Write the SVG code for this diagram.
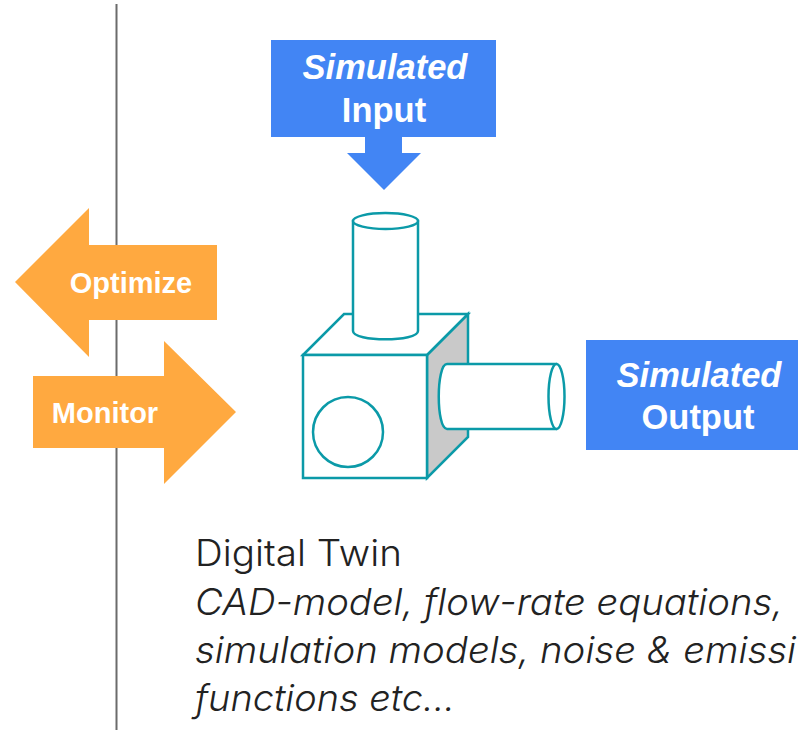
<svg xmlns="http://www.w3.org/2000/svg" width="798" height="730" viewBox="0 0 798 730">
<style>
.o{fill:#ffa940}.b{fill:#4285f4}
.l{fill:#fff;stroke:#0b9aa8;stroke-width:2.500}
.g{fill:#c9c9c9;stroke:#0b9aa8;stroke-width:2.500}
.t{font-family:"Liberation Sans",Arial,sans-serif;font-weight:bold;fill:#fff;text-anchor:middle}
.d{font-family:Inter,"Noto Sans",sans-serif;font-weight:300;font-size:37px;fill:#222}
</style>
<rect width="798" height="730" fill="#fff"/>
<g id="connectors"><path d="M116.500 4V730" stroke="#6b6b6b" stroke-width="2" fill="none"/></g>
<g id="optimize"><path class="o" d="M15 282L89 208V245H217V320H89V357Z"/><text class="t" x="131" y="293" font-size="29">Optimize</text></g>
<g id="monitor"><path class="o" d="M33 376H164V341L236 412L164 484V448H33Z"/><text class="t" x="105" y="423" font-size="29">Monitor</text></g>
<g id="input"><rect class="b" x="271" y="40" width="225" height="97"/><path class="b" d="M365 136H402V153H421L384 190L347 153H365Z"/><text class="t" x="385" y="79" font-size="34.500" font-style="italic">Simulated</text><text class="t" x="384" y="122" font-size="34.500">Input</text></g>
<g id="output"><rect class="b" x="586" y="340" width="212" height="110"/><text class="t" x="699" y="387" font-size="34.500" font-style="italic">Simulated</text><text class="t" x="698" y="429" font-size="34.500">Output</text></g>
<g id="twin-model">
<path class="g" d="M427 355L468 314V437L427 478Z"/>
<path class="l" d="M303 355L344 314H468L427 355Z"/>
<rect class="l" x="303" y="355" width="124" height="123"/>
<circle class="l" cx="348" cy="432" r="35"/>
<path class="l" d="M353 221V331C353 342 418 342 418 331V221Z"/>
<ellipse class="l" cx="385.500" cy="221" rx="32.500" ry="8"/>
<path class="l" d="M556 364H447C436 364 436 429 447 429H556Z"/>
<ellipse class="l" cx="556.500" cy="396.500" rx="8" ry="32.500"/>
</g>
<g id="description">
<text class="d" x="195" y="566" textLength="207" lengthAdjust="spacingAndGlyphs">Digital Twin</text>
<text class="d" x="195" y="615" font-style="italic" textLength="588" lengthAdjust="spacingAndGlyphs">CAD-model, flow-rate equations,</text>
<text class="d" x="195" y="663" font-style="italic" textLength="601" lengthAdjust="spacingAndGlyphs">simulation models, noise &amp; emissi</text>
<text class="d" x="195" y="711" font-style="italic" textLength="260" lengthAdjust="spacingAndGlyphs">functions etc...</text>
</g>
</svg>
